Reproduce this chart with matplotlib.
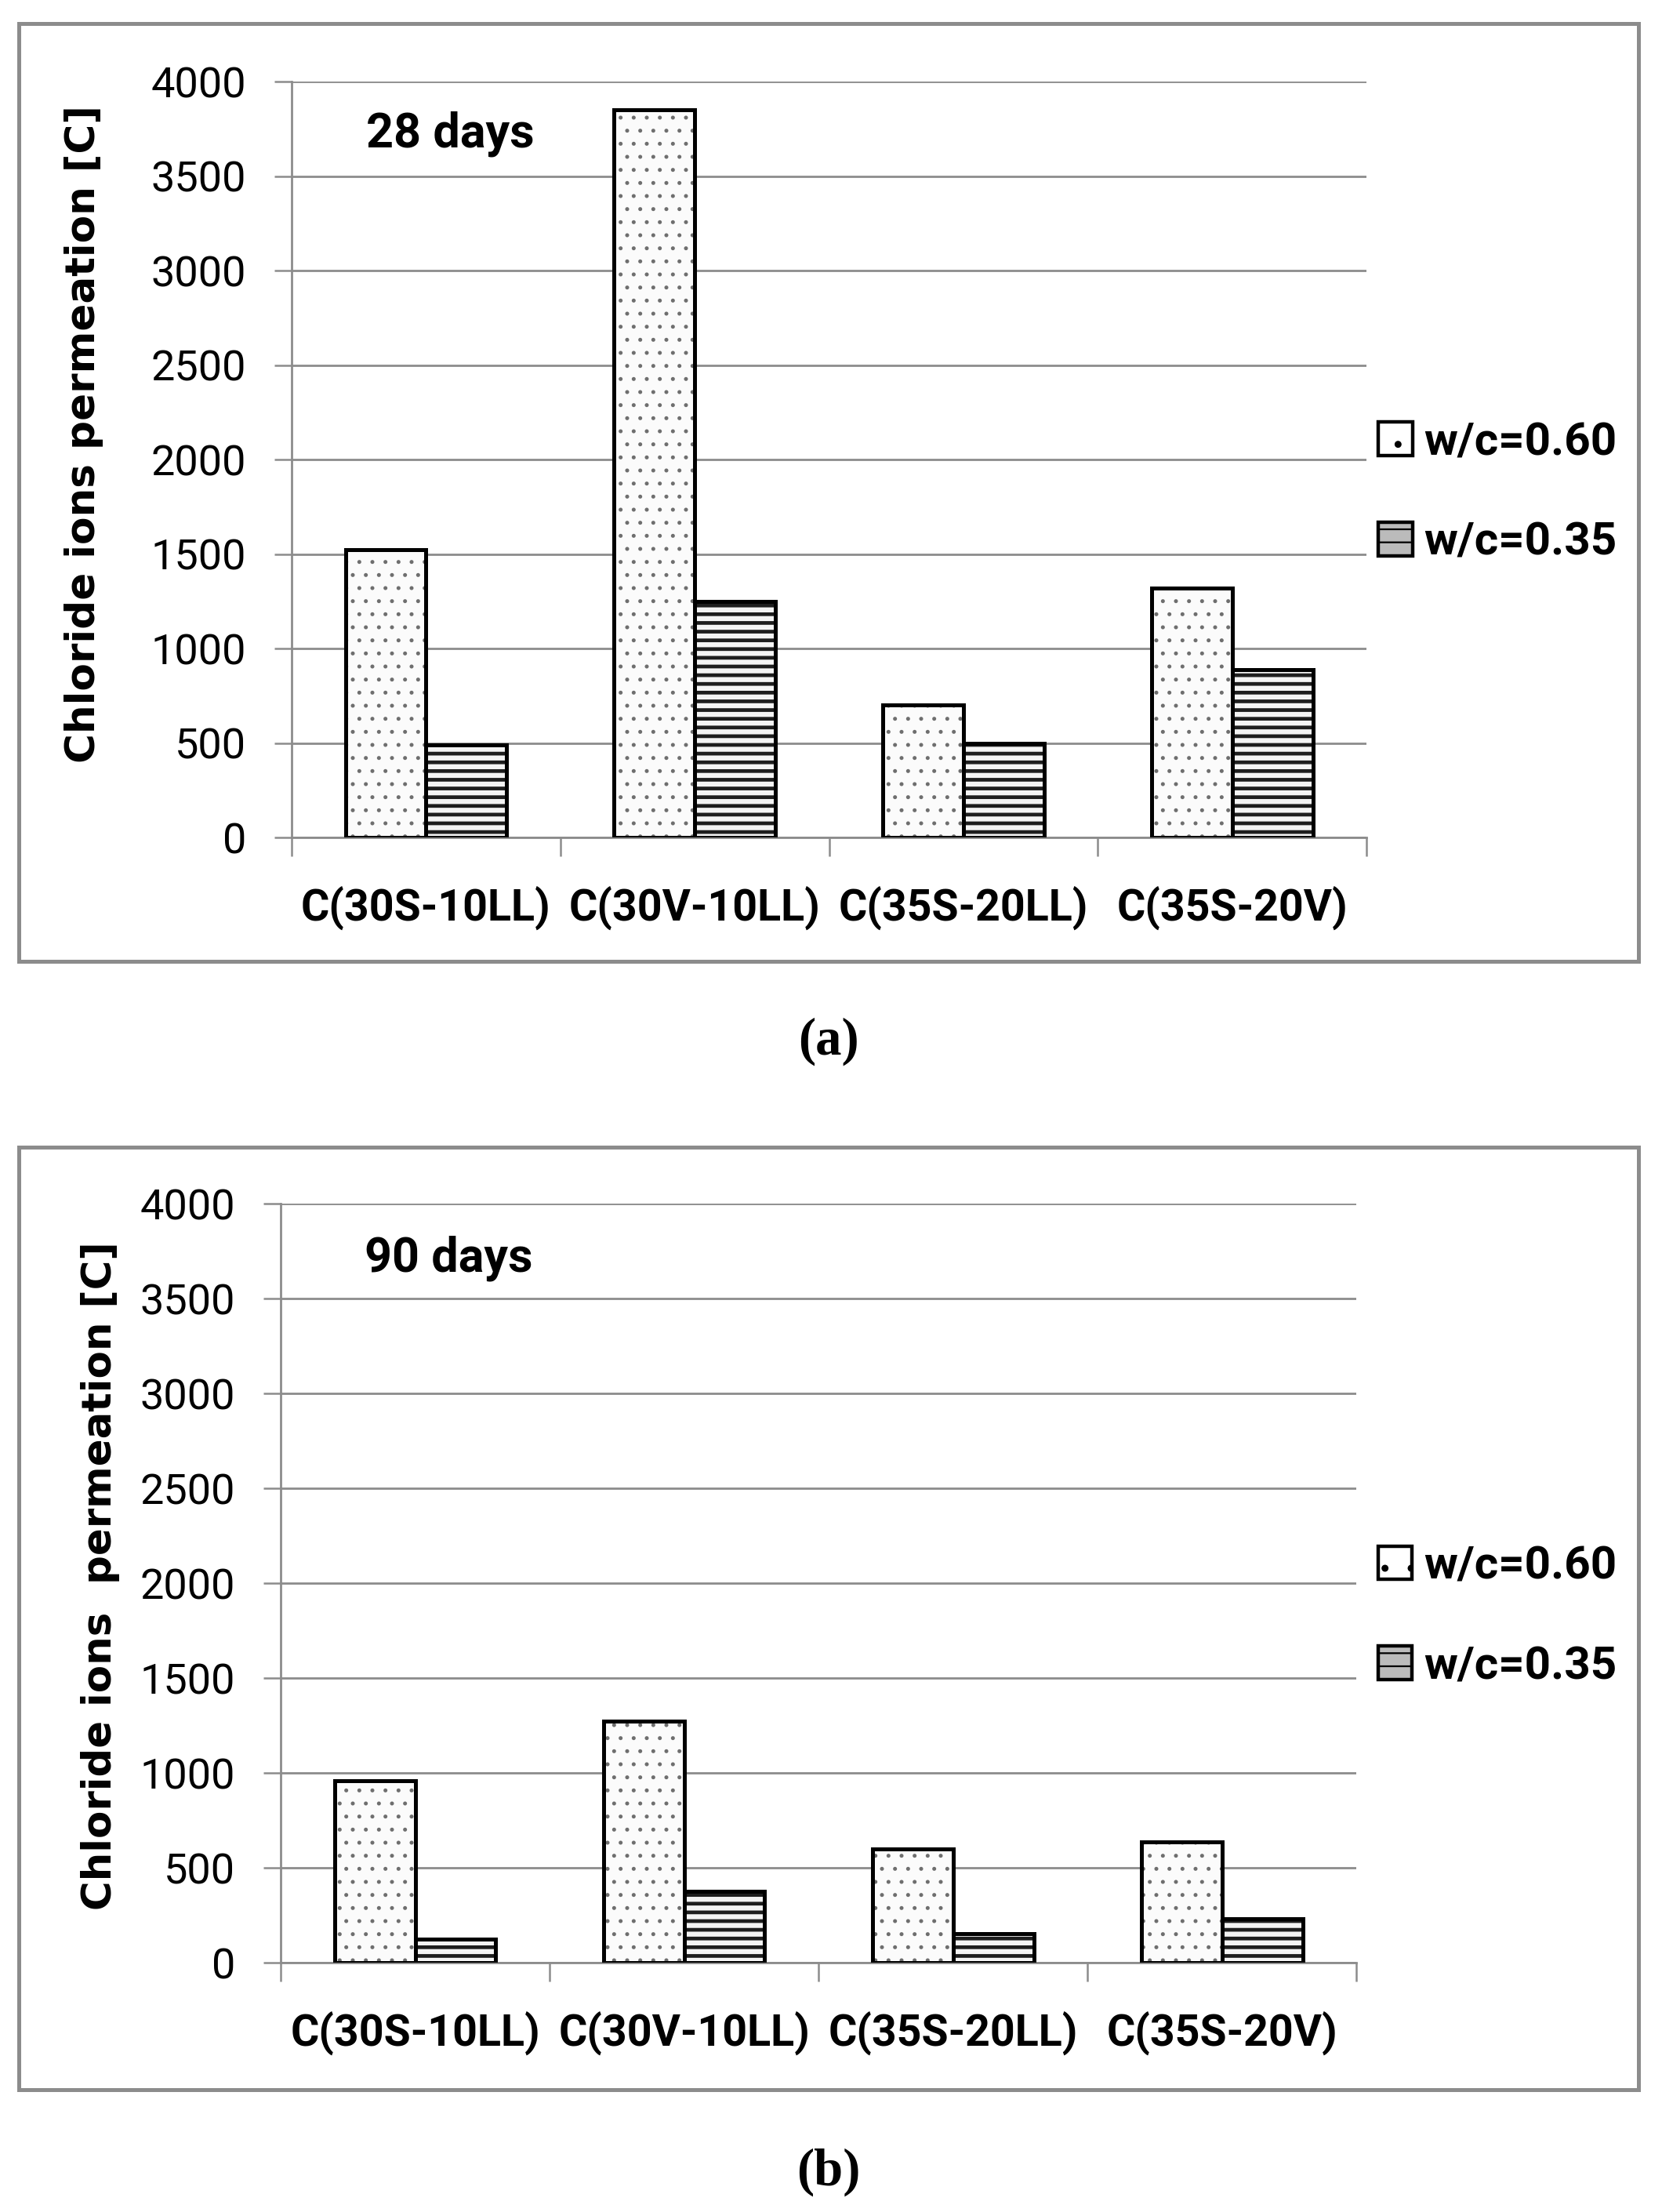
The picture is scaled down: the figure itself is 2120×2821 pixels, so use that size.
import matplotlib
matplotlib.use("Agg")
import matplotlib.pyplot as plt
from matplotlib.patches import Rectangle, Patch
import numpy as np

categorias = ["C(30S-10LL)", "C(30V-10LL)", "C(35S-20LL)", "C(35S-20V)"]
series = ["w/c=0.60", "w/c=0.35"]
dias_28_060 = [1525, 3850, 700, 1320]
dias_28_035 = [490, 1250, 497, 887]
dias_90_060 = [960, 1272, 598, 635]
dias_90_035 = [125, 378, 154, 232]
ticks_y = [0, 500, 1000, 1500, 2000, 2500, 3000, 3500, 4000]

gris = "#8c8c8c"
fuente = "Roboto"

fig = plt.figure(figsize=(10.6, 14.105), dpi=200)
alto_px = 14.105 * 200
ancho_px = 10.6 * 200


def barras(ax, x, vals, estilo):
    # capa de trama (color de trama = color de borde) y luego borde negro encima
    if estilo == "puntos":
        plt.rcParams["hatch.linewidth"] = 0.6
        ax.bar(x, vals, 0.3, color="#fbfbfb", edgecolor="#6e6e6e", hatch="..", lw=0, zorder=2)
    else:
        plt.rcParams["hatch.linewidth"] = 1.7
        ax.bar(x, vals, 0.3, color="#f4f4f4", edgecolor="#1e1e1e", hatch="---", lw=0, zorder=2)
    ax.bar(x, vals, 0.3, fill=False, edgecolor="black", lw=1.8, zorder=3)


def etiqueta_y(texto, cx, cy, largo):
    # etiqueta vertical: se ajusta el tamaño al largo medido y se centra en (cx, cy) px
    t = fig.text(cx / ancho_px, 1 - cy / alto_px, texto, rotation=90, ha="center", va="center",
                 fontsize=20, family="DejaVu Sans", fontweight="bold")
    r = fig.canvas.get_renderer()
    bb = t.get_window_extent(r)
    t.set_fontsize(20 * largo / bb.height)
    bb = t.get_window_extent(r)
    dx = cx - (bb.x0 + bb.x1) / 2
    dy = (alto_px - cy) - (bb.y0 + bb.y1) / 2
    x, y = t.get_position()
    t.set_position((x + dx / ancho_px, y + dy / alto_px))


def panel(rect, v060, v035, texto_dias, pos_dias, pos_leg):
    ax = fig.add_axes(rect)
    x = np.arange(len(categorias))
    barras(ax, x - 0.15, v060, "puntos")
    barras(ax, x + 0.15, v035, "rayas")
    ax.set_xlim(-0.5, 3.5)
    ax.set_ylim(0, 4000)
    ax.set_yticks(ticks_y)
    ax.set_yticklabels([str(t) for t in ticks_y], fontsize=19.5, family=fuente)
    ax.set_xticks(x)
    ax.set_xticklabels(categorias, fontsize=20, family=fuente, fontweight="bold")
    ax.set_xticks(np.arange(-0.5, 4.0, 1.0), minor=True)
    ax.tick_params(axis="x", which="major", length=0, pad=22)
    ax.tick_params(axis="x", which="minor", length=8.5, width=0.9, color=gris)
    ax.tick_params(axis="y", length=7.8, width=0.9, color=gris, pad=13)
    ax.grid(axis="y", color=gris, lw=1.0)
    ax.set_axisbelow(True)
    for s in ["top", "right"]:
        ax.spines[s].set_visible(False)
    for s in ["left", "bottom"]:
        ax.spines[s].set_color(gris)
        ax.spines[s].set_linewidth(1.0)
    ax.text(pos_dias[0], pos_dias[1], texto_dias, transform=ax.transAxes,
            fontsize=22, family=fuente, fontweight="bold", va="baseline")
    plt.rcParams["hatch.linewidth"] = 0.8
    manejadores = [
        Patch(facecolor="white", edgecolor="black", hatch=".", lw=1.6),
        Patch(facecolor="#bbbbbb", edgecolor="black", hatch="--", lw=1.6),
    ]
    ax.legend(manejadores, series, loc="center left", bbox_to_anchor=pos_leg, frameon=False,
              prop={"family": fuente, "weight": "bold", "size": 21},
              handlelength=0.75, handleheight=0.75, handletextpad=0.25, labelspacing=1.25,
              borderpad=0, borderaxespad=0)
    return ax


panel([0.1755, 0.6214, 0.6467, 0.3417], dias_28_060, dias_28_035, "28 days", (0.069, 0.913),
      (1.011, 0.456))
panel([0.1689, 0.1127, 0.6472, 0.3431], dias_90_060, dias_90_035, "90 days", (0.078, 0.911),
      (1.020, 0.456))

etiqueta_y("Chloride ions permeation [C]", 107, 554, 838)
etiqueta_y("Chloride ions  permeation [C]", 128, 2010, 852)

# marcos grises de cada panel
fig.add_artist(Rectangle((0.0113, 0.5654), 0.9745, 0.424, transform=fig.transFigure,
                         fill=False, ec=gris, lw=1.8))
fig.add_artist(Rectangle((0.0113, 0.0553), 0.9745, 0.426, transform=fig.transFigure,
                         fill=False, ec=gris, lw=1.8))

fig.text(0.4986, (2821 - 1328) / 2821, "(a)", ha="center", va="center", fontsize=24,
         family="Liberation Serif", fontweight="bold")
fig.text(0.4986, (2821 - 2770) / 2821, "(b)", ha="center", va="center", fontsize=24,
         family="Liberation Serif", fontweight="bold")

fig.savefig("out.png", dpi=200)
